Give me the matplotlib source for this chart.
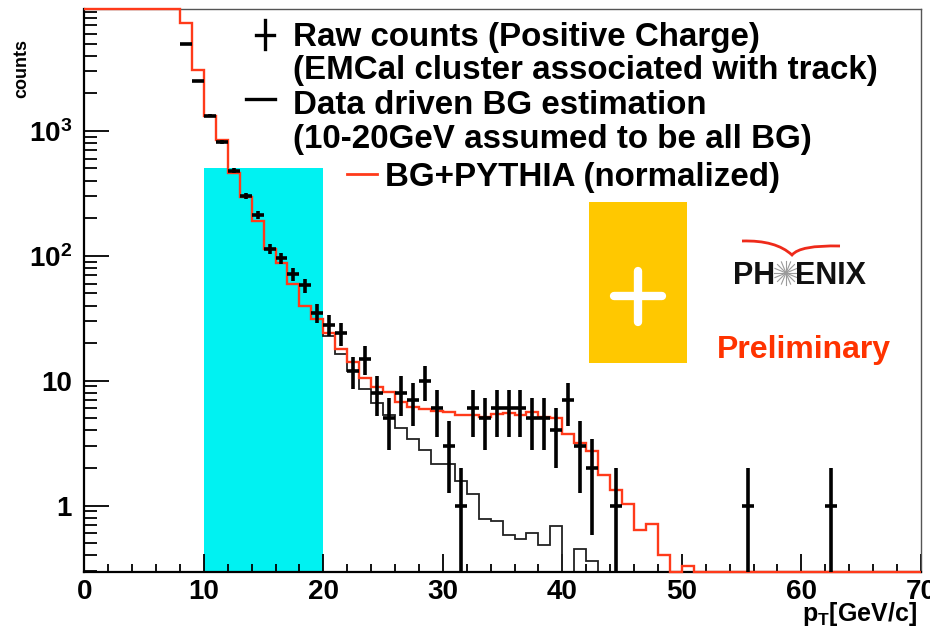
import numpy as np
import matplotlib
matplotlib.use('Agg')
import matplotlib.pyplot as plt
from matplotlib.lines import Line2D
from matplotlib.patches import Rectangle, PathPatch
from matplotlib.path import Path
import matplotlib.ticker as mt

plt.rcParams['font.family'] = ['Liberation Sans', 'DejaVu Sans']
plt.rcParams['font.weight'] = 'bold'
plt.rcParams['mathtext.fontset'] = 'custom'
plt.rcParams['mathtext.rm'] = 'Liberation Sans:bold'
plt.rcParams['mathtext.bf'] = 'Liberation Sans:bold'
plt.rcParams['mathtext.it'] = 'Liberation Sans:bold'
plt.rcParams['mathtext.default'] = 'bf'

# ---------------- data ----------------
edges = np.arange(0, 71)          # 1 GeV bins, 0-70 GeV/c
# BG + PYTHIA (normalized), bins 0..69 (first bins off-scale)
pythia_bg = [9.0e4, 7.0e4, 5.5e4, 4.2e4, 3.2e4, 2.4e4, 1.7e4, 1.15e4,
             7270, 3076, 1318, 847, 464, 298, 190, 113, 87, 59,
             40, 31, 24, 17.9, 14.0, 10.6, 8.9, 8.1, 6.8, 6.2,
             5.97, 5.68, 5.6, 5.35, 5.35, 5.12, 5.4, 5.55, 5.35, 5.65,
             5.12, 5.03, 3.75, 3.2, 2.75, 1.77, 1.34, 1.03, 0.64, 0.71,
             0.40, 0, 0.33, 0, 0, 0, 0, 0, 0, 0,
             0, 0, 0, 0, 0, 0, 0, 0, 0, 0, 0, 0]
# data driven BG estimation, bins 10..43
bg_edges = np.arange(10, 45)
bg_est = [1318, 847, 464, 298, 190, 113, 87, 59, 40, 31,
          22.6, 16.3, 11.9, 8.6, 6.6, 5.3, 4.2, 3.4, 2.8, 2.16,
          2.16, 1.58, 1.23, 0.78, 0.75, 0.586, 0.54, 0.60, 0.48, 0.69,
          0, 0.45, 0.36, 0]
# raw counts (positive charge), bins 8..69
raw_first_bin = 8
raw_counts = [4940, 2526, 1318, 811, 481, 302, 213, 114, 96, 71,
              58, 35, 28, 24, 12, 15, 8, 5, 8, 7,
              10, 6, 3, 1, 6, 5, 6, 6, 6, 5,
              5, 4, 7, 3, 2, 0, 1, 0, 0, 0,
              0, 0, 0, 0, 0, 0, 0, 1, 0, 0,
              0, 0, 0, 0, 1, 0, 0, 0, 0, 0,
              0, 0]
bg_region = (10, 20)
bg_region_top = 505

y_tick_vals = [1, 10, 100, 1000]
y_tick_labels = ['1', '10', '$10^{2}$', '$10^{3}$']
x_tick_vals = [0, 10, 20, 30, 40, 50, 60, 70]

# ---------------- figure ----------------
W, H = 930, 630
fig = plt.figure(figsize=(W / 100, H / 100), dpi=100)
L, R, T, B = 84.3, 920.8, 9.3, 571.7
ax = fig.add_axes([L / W, 1 - B / H, (R - L) / W, (B - T) / H])
ymin, ymax = 0.296, 9400
ax.set_yscale('log')
ax.set_xlim(0, 70)
ax.set_ylim(ymin, ymax)

RED = '#ff3a1a'

ax.add_patch(Rectangle((bg_region[0], ymin), bg_region[1] - bg_region[0],
                       bg_region_top - ymin, facecolor='#00f2f2',
                       edgecolor='none', zorder=0))

bg = np.array(bg_est, float)
ax.stairs(np.clip(bg, ymin, None), bg_edges, baseline=None,
          color='#222222', lw=1.3, zorder=2)

red = np.array(pythia_bg, float)
ax.stairs(np.clip(red, ymin, ymax), edges, baseline=None,
          color=RED, lw=1.7, zorder=3, clip_on=False)

raw = np.array(raw_counts, float)
centers = np.arange(raw_first_bin, raw_first_bin + len(raw)) + 0.5
m = raw > 0
err = np.sqrt(raw[m])
lo = raw[m] - np.maximum(raw[m] - err, 1e-3)
ax.errorbar(centers[m], raw[m], xerr=0.5, yerr=[lo, err], fmt='none',
            ecolor='black', elinewidth=2.6, capsize=0, zorder=4)

# axes style
for s in ['left', 'bottom']:
    ax.spines[s].set_linewidth(1.6)
    ax.spines[s].set_color('black')
for s in ['top', 'right']:
    ax.spines[s].set_linewidth(1.0)
    ax.spines[s].set_color('#555555')

ax.xaxis.set_major_locator(mt.FixedLocator(x_tick_vals))
ax.xaxis.set_minor_locator(mt.MultipleLocator(2))
ax.yaxis.set_major_locator(mt.FixedLocator(y_tick_vals))
ax.yaxis.set_major_formatter(mt.FixedFormatter(y_tick_labels))
ax.yaxis.set_minor_locator(mt.LogLocator(base=10, subs=np.arange(2, 10)))
ax.yaxis.set_minor_formatter(mt.NullFormatter())
ax.tick_params(axis='both', which='both', direction='in', top=False,
               right=False, width=1.3, labelsize=20)
ax.tick_params(axis='x', which='major', length=13, pad=5)
ax.tick_params(axis='x', which='minor', length=6)
ax.tick_params(axis='y', which='major', length=18, pad=9)
ax.tick_params(axis='y', which='minor', length=9)

fig.text(22 / W, 1 - 68 / H, 'counts', rotation=90, ha='center',
         va='center', fontsize=13, weight='bold')
fig.text(917 / W, 1 - 621 / H, '$p_{T}$[GeV/c]', ha='right',
         va='baseline', fontsize=18)


def P(x, y):
    return x / W, 1 - y / H


def fline(x0, y0, x1, y1, **kw):
    (a, b), (c, d) = P(x0, y0), P(x1, y1)
    fig.add_artist(Line2D([a, c], [b, d], transform=fig.transFigure, **kw))


# legend
fline(265, 20, 265, 49, color='black', lw=2.4)
fline(256, 35, 274, 35, color='black', lw=2.4)
fline(246, 99, 275, 99, color='black', lw=2.4)
fline(347, 174, 377, 174, color=RED, lw=2.0)
leg_fs = 23.9
for (y, txt) in [(46, 'Raw counts (Positive Charge)'),
                 (79, '(EMCal cluster associated with track)'),
                 (114, 'Data driven BG estimation'),
                 (148, '(10-20GeV assumed to be all BG)')]:
    fig.text(*P(293, y), txt, ha='left', va='baseline', fontsize=leg_fs,
             weight='bold')
fig.text(*P(385, 186), 'BG+PYTHIA (normalized)', ha='left', va='baseline',
         fontsize=leg_fs, weight='bold')

# gold box with white plus
x0, y0 = P(589, 362.7)
fig.add_artist(Rectangle((x0, y0), 97.7 / W, 160.4 / H, transform=fig.transFigure,
                         facecolor='#ffc800', edgecolor='none'))
fline(614, 296, 662, 296, color='white', lw=6, solid_capstyle='round')
fline(638, 271, 638, 322, color='white', lw=6, solid_capstyle='round')

# PHENIX logo
fig.text(*P(733, 284), 'PH', ha='left', va='baseline', fontsize=22,
         weight='bold', color='#111111')
fig.text(*P(795, 284), 'ENIX', ha='left', va='baseline', fontsize=22,
         weight='bold', color='#111111')
cx, cy = 786, 273
for a in np.linspace(0, np.pi, 8, endpoint=False):
    dx, dy = 12 * np.cos(a), 12 * np.sin(a)
    fline(cx - dx, cy - dy, cx + dx, cy + dy, color='#9a9a9a', lw=0.8)
verts = [P(742, 241), P(776, 240), P(792, 255), P(800, 245), P(840, 246)]
path = Path(verts, [Path.MOVETO, Path.CURVE3, Path.CURVE3, Path.CURVE3, Path.CURVE3])
fig.add_artist(PathPatch(path, transform=fig.transFigure, facecolor='none',
                         edgecolor='#ee2a1a', lw=2))
fig.text(*P(717, 358), 'Preliminary', ha='left', va='baseline', fontsize=23,
         weight='bold', color='#ff3300')

fig.savefig('out.png', dpi=100)
